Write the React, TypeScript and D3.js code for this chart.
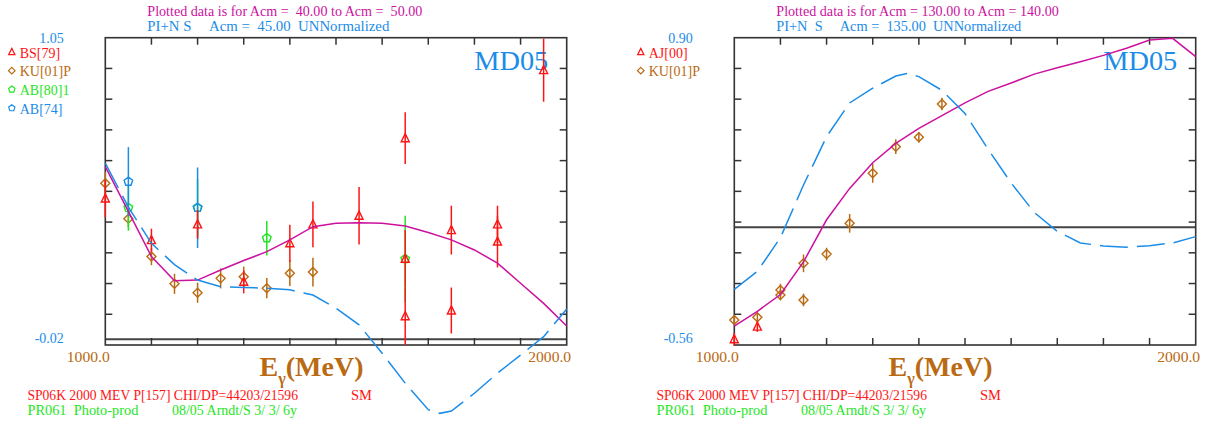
import React from 'react';
import * as d3 from 'd3';

// ---------- shared ----------
const ENERGY_DOMAIN: [number, number] = [1000, 2000];

// ---------- left panel (Acm = 40 - 50) ----------
const L_Y_DOMAIN: [number, number] = [-0.02, 1.05];
const L_Y_LABELS = ['1.05', '-0.02'];
const L_TITLE1 = 'Plotted data is for Acm =  40.00 to Acm =  50.00';
const L_TITLE2 = 'PI+N S     Acm =  45.00  UNNormalized';

const L_BS_E = [1000, 1100, 1200, 1300, 1400, 1450, 1550, 1650, 1650, 1650, 1750, 1750, 1850, 1850, 1950];
const L_BS_V = [0.49, 0.345, 0.4, 0.2, 0.334, 0.4, 0.43, 0.7, 0.28, 0.08, 0.38, 0.1, 0.4, 0.34, 0.937];
const L_BS_ERR = [0.065, 0.04, 0.05, 0.04, 0.065, 0.08, 0.1, 0.09, 0.1, 0.1, 0.085, 0.08, 0.065, 0.09, 0.11];

const L_KU_E = [1000, 1050, 1100, 1150, 1200, 1250, 1300, 1350, 1400, 1450];
const L_KU_V = [0.543, 0.42, 0.288, 0.193, 0.162, 0.212, 0.218, 0.178, 0.23, 0.234];
const L_KU_ERR = [0.04, 0.03, 0.03, 0.035, 0.035, 0.035, 0.035, 0.035, 0.045, 0.05];

const L_AB80_E = [1050, 1200, 1350, 1650];
const L_AB80_V = [0.458, 0.458, 0.352, 0.28];
const L_AB80_ERR = [0.08, 0.1, 0.06, 0.15];

const L_AB74_E = [1050, 1200];
const L_AB74_V = [0.549, 0.458];
const L_AB74_ERR = [0.12, 0.14];

const L_SM_E = [1000, 1050, 1100, 1150, 1200, 1250, 1300, 1350, 1400, 1450, 1500, 1550, 1600, 1650, 1700, 1750, 1800, 1850, 1900, 1950, 2000];
const L_SM_V = [0.601, 0.445, 0.288, 0.204, 0.206, 0.241, 0.274, 0.305, 0.346, 0.392, 0.404, 0.406, 0.404, 0.394, 0.372, 0.346, 0.311, 0.265, 0.195, 0.125, 0.046];

const L_PIN_E = [1000, 1050, 1100, 1150, 1200, 1250, 1300, 1350, 1400, 1450, 1500, 1550, 1600, 1650, 1700, 1725, 1750, 1800, 1850, 1900, 1950, 2000];
const L_PIN_V = [0.613, 0.46, 0.334, 0.26, 0.206, 0.183, 0.18, 0.178, 0.172, 0.154, 0.108, 0.05, -0.049, -0.153, -0.245, -0.258, -0.25, -0.188, -0.118, -0.055, 0.009, 0.105];

// ---------- right panel (Acm = 130 - 140) ----------
const R_Y_DOMAIN: [number, number] = [-0.56, 0.9];
const R_Y_LABELS = ['0.90', '-0.56'];
const R_TITLE1 = 'Plotted data is for Acm = 130.00 to Acm = 140.00';
const R_TITLE2 = 'PI+N  S     Acm =  135.00  UNNormalized';

const R_AJ_E = [1000, 1050];
const R_AJ_V = [-0.533, -0.473];
const R_AJ_ERR = [0.03, 0.025];

const R_KU_E = [1000, 1050, 1100, 1100, 1150, 1150, 1200, 1250, 1300, 1350, 1400, 1450];
const R_KU_V = [-0.441, -0.428, -0.299, -0.323, -0.172, -0.346, -0.128, 0.018, 0.256, 0.382, 0.427, 0.585];
const R_KU_ERR = [0.02, 0.02, 0.03, 0.025, 0.042, 0.03, 0.03, 0.044, 0.045, 0.035, 0.025, 0.03];

const R_SM_E = [1000, 1050, 1100, 1150, 1200, 1250, 1300, 1350, 1400, 1450, 1500, 1550, 1600, 1650, 1700, 1750, 1800, 1850, 1900, 1950, 2000];
const R_SM_V = [-0.47, -0.4, -0.32, -0.165, 0.035, 0.184, 0.306, 0.398, 0.469, 0.53, 0.59, 0.645, 0.685, 0.727, 0.757, 0.786, 0.816, 0.85, 0.889, 0.897, 0.81];

const R_PIN_E = [1000, 1050, 1100, 1150, 1200, 1250, 1300, 1350, 1375, 1400, 1450, 1500, 1550, 1600, 1650, 1700, 1750, 1800, 1850, 1900, 1950, 2000];
const R_PIN_V = [-0.296, -0.21, -0.05, 0.2, 0.43, 0.59, 0.66, 0.718, 0.73, 0.715, 0.65, 0.54, 0.37, 0.21, 0.07, -0.02, -0.075, -0.09, -0.095, -0.088, -0.075, -0.045];

// ---------- footer ----------
const FOOT1 = 'SP06K 2000 MEV P[157] CHI/DP=44203/21596';
const FOOT1B = 'SM';
const FOOT2 = 'PR061  Photo-prod';
const FOOT2B = '08/05 Arndt/S 3/ 3/ 6y';

// ---------- styling ----------
const C_RED = '#ff1414';
const C_BROWN = '#b96a12';
const C_GREEN = '#1ee61e';
const C_BLUE = '#1b8ce8';
const C_MAG = '#cc119e';
const C_FRAME = '#333333';
const FONT = '"Liberation Serif", "Times New Roman", serif';

type Shape = 'tri' | 'dia' | 'pent';

function markerPath(shape: Shape, r: number): string {
  if (shape === 'tri') {
    const h = r * 1.1;
    return `M0,${-h}L${r * 0.95},${h * 0.75}L${-r * 0.95},${h * 0.75}Z`;
  }
  if (shape === 'dia') {
    return `M0,${-r}L${r},0L0,${r}L${-r},0Z`;
  }
  const pts: string[] = [];
  for (let i = 0; i < 5; i++) {
    const a = -Math.PI / 2 + (i * 2 * Math.PI) / 5;
    pts.push(`${(r * Math.cos(a)).toFixed(2)},${(r * Math.sin(a)).toFixed(2)}`);
  }
  return 'M' + pts.join('L') + 'Z';
}

interface Series {
  e: number[];
  v: number[];
  err: number[];
  color: string;
  shape: Shape;
}

interface PanelProps {
  ox: number;
  yDomain: [number, number];
  yLabels: string[];
  title1: string;
  title2: string;
  title1Len: number;
  title2Len: number;
  legend: { label: string; color: string; shape: Shape }[];
  series: Series[];
  sm: { e: number[]; v: number[] };
  pin: { e: number[]; v: number[] };
}

const FRAME_L = 105.3;
const FRAME_W = 461.4;
const FRAME_T = 37.7;
const FRAME_B = 345;

function Panel(p: PanelProps) {
  const x0 = p.ox + FRAME_L;
  const x1 = x0 + FRAME_W;
  const x = d3.scaleLinear().domain(ENERGY_DOMAIN).range([x0, x1]);
  const y = d3.scaleLinear().domain(p.yDomain).range([FRAME_B, FRAME_T]);
  const div = d3.scaleLinear().domain([0, 10]).range([FRAME_B, FRAME_T]);
  const mk = (es: number[], vs: number[]) =>
    d3
      .line<number>()
      .x((_, i) => x(es[i]))
      .y((_, i) => y(vs[i]))(es) || '';
  const xt = x.ticks(10).slice(1, -1);
  const yt = d3.range(1, 10);
  const TL = 7;
  return (
    <g>
      {/* titles */}
      <text x={x0 + 42} y={16} fill={C_MAG} fontSize={14} style={{ whiteSpace: 'pre' }} textLength={p.title1Len} lengthAdjust="spacingAndGlyphs">
        {p.title1}
      </text>
      <text x={x0 + 42} y={31} fill={C_BLUE} fontSize={14} style={{ whiteSpace: 'pre' }} textLength={p.title2Len} lengthAdjust="spacingAndGlyphs">
        {p.title2}
      </text>
      {/* y labels */}
      <text x={x0 - 41.5} y={43} fill={C_BLUE} fontSize={14} textAnchor="end">
        {p.yLabels[0]}
      </text>
      <text x={x0 - 41.5} y={342.5} fill={C_BLUE} fontSize={14} textAnchor="end">
        {p.yLabels[1]}
      </text>
      {/* legend */}
      {p.legend.map((l, i) => (
        <g key={l.label}>
          <path d={markerPath(l.shape, 3.3)} transform={`translate(${x0 - 93.5},${52 + i * 18.7})`} fill="none" stroke={l.color} strokeWidth={1.2} />
          <text x={x0 - 85.6} y={57.5 + i * 18.7} fill={l.color} fontSize={14}>
            {l.label}
          </text>
        </g>
      ))}
      {/* MD05 */}
      <text x={x0 + 369} y={70} fill={C_BLUE} fontSize={27} textLength={74} lengthAdjust="spacingAndGlyphs">
        MD05
      </text>
      {/* zero line */}
      <line x1={x0} x2={x1} y1={y(0)} y2={y(0)} stroke="#444" strokeWidth={2} />
      {/* frame */}
      <rect x={x0} y={FRAME_T} width={x1 - x0} height={FRAME_B - FRAME_T} fill="none" stroke={C_FRAME} strokeWidth={1.6} />
      {xt.map((t) => (
        <g key={'xt' + t}>
          <line x1={x(t)} x2={x(t)} y1={FRAME_T} y2={FRAME_T + TL} stroke={C_FRAME} strokeWidth={1.5} />
          <line x1={x(t)} x2={x(t)} y1={FRAME_B} y2={FRAME_B - TL} stroke={C_FRAME} strokeWidth={1.5} />
        </g>
      ))}
      {yt.map((t) => (
        <g key={'yt' + t}>
          <line x1={x0} x2={x0 + TL} y1={div(t)} y2={div(t)} stroke={C_FRAME} strokeWidth={1.5} />
          <line x1={x1} x2={x1 - TL} y1={div(t)} y2={div(t)} stroke={C_FRAME} strokeWidth={1.5} />
        </g>
      ))}
      {/* x labels */}
      <text x={x0 + 4.5} y={362} fill={C_BROWN} fontSize={15} textAnchor="end" textLength={43} lengthAdjust="spacingAndGlyphs">
        1000.0
      </text>
      <text x={x1 + 4.5} y={362} fill={C_BROWN} fontSize={15} textAnchor="end" textLength={43} lengthAdjust="spacingAndGlyphs">
        2000.0
      </text>
      <text x={x0 + 154.3} y={376} fill={C_BROWN} fontSize={28} fontWeight="bold">
        E
        <tspan fontSize={16} dy={8}>
          γ
        </tspan>
        <tspan dy={-8}>(MeV)</tspan>
      </text>
      {/* data series */}
      {p.series.map((s, si) => (
        <g key={'s' + si}>
          {s.e.map((e, i) => (
            <g key={i}>
              <line x1={x(e)} x2={x(e)} y1={y(s.v[i] - s.err[i])} y2={y(s.v[i] + s.err[i])} stroke={s.color} strokeWidth={1.5} />
              <path d={markerPath(s.shape, s.shape === 'tri' ? 4.2 : 4.5)} transform={`translate(${x(e)},${y(s.v[i])})`} fill="none" stroke={s.color} strokeWidth={1.4} />
            </g>
          ))}
        </g>
      ))}
      {/* curves */}
      <path d={mk(p.sm.e, p.sm.v)} fill="none" stroke={C_MAG} strokeWidth={1.5} />
      <path d={mk(p.pin.e, p.pin.v)} fill="none" stroke={C_BLUE} strokeWidth={1.5} strokeDasharray="28,9" />
      {/* footer */}
      <text x={x0 - 77.9} y={400} fill={C_RED} fontSize={14} textLength={270.6} lengthAdjust="spacingAndGlyphs">
        {FOOT1}
      </text>
      <text x={x0 + 245.7} y={400} fill={C_RED} fontSize={14} textLength={21} lengthAdjust="spacingAndGlyphs">
        {FOOT1B}
      </text>
      <text x={x0 - 77.9} y={415} fill={C_GREEN} fontSize={14} style={{ whiteSpace: 'pre' }} textLength={111} lengthAdjust="spacingAndGlyphs">
        {FOOT2}
      </text>
      <text x={x0 + 66.7} y={415} fill={C_GREEN} fontSize={14} style={{ whiteSpace: 'pre' }} textLength={125} lengthAdjust="spacingAndGlyphs">
        {FOOT2B}
      </text>
    </g>
  );
}

export default function App() {
  const leftSeries: Series[] = [
    { e: L_KU_E, v: L_KU_V, err: L_KU_ERR, color: C_BROWN, shape: 'dia' },
    { e: L_AB80_E, v: L_AB80_V, err: L_AB80_ERR, color: C_GREEN, shape: 'pent' },
    { e: L_AB74_E, v: L_AB74_V, err: L_AB74_ERR, color: C_BLUE, shape: 'pent' },
    { e: L_BS_E, v: L_BS_V, err: L_BS_ERR, color: C_RED, shape: 'tri' },
  ];
  const rightSeries: Series[] = [
    { e: R_KU_E, v: R_KU_V, err: R_KU_ERR, color: C_BROWN, shape: 'dia' },
    { e: R_AJ_E, v: R_AJ_V, err: R_AJ_ERR, color: C_RED, shape: 'tri' },
  ];
  return (
    <svg width={1225} height={425} style={{ position: 'absolute', left: 0, top: 0, background: '#fff' }} fontFamily={FONT}>
      <rect x={0} y={0} width={1225} height={425} fill="#fff" />
      <Panel
        ox={0}
        yDomain={L_Y_DOMAIN}
        yLabels={L_Y_LABELS}
        title1={L_TITLE1}
        title2={L_TITLE2}
        title1Len={275}
        title2Len={242}
        legend={[
          { label: 'BS[79]', color: C_RED, shape: 'tri' },
          { label: 'KU[01]P', color: C_BROWN, shape: 'dia' },
          { label: 'AB[80]1', color: C_GREEN, shape: 'pent' },
          { label: 'AB[74]', color: C_BLUE, shape: 'pent' },
        ]}
        series={leftSeries}
        sm={{ e: L_SM_E, v: L_SM_V }}
        pin={{ e: L_PIN_E, v: L_PIN_V }}
      />
      <Panel
        ox={629}
        yDomain={R_Y_DOMAIN}
        yLabels={R_Y_LABELS}
        title1={R_TITLE1}
        title2={R_TITLE2}
        title1Len={282.5}
        title2Len={245}
        legend={[
          { label: 'AJ[00]', color: C_RED, shape: 'tri' },
          { label: 'KU[01]P', color: C_BROWN, shape: 'dia' },
        ]}
        series={rightSeries}
        sm={{ e: R_SM_E, v: R_SM_V }}
        pin={{ e: R_PIN_E, v: R_PIN_V }}
      />
    </svg>
  );
}
